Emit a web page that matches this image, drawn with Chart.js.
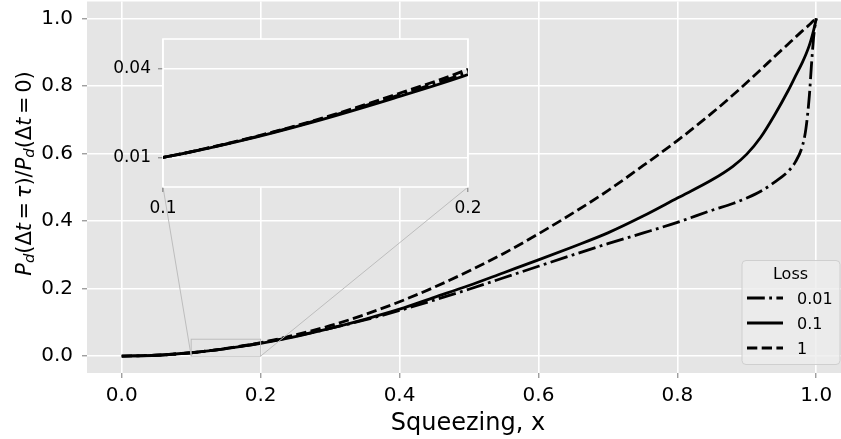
<!DOCTYPE html>
<html>
<head>
<meta charset="utf-8">
<script src="https://cdn.jsdelivr.net/npm/chart.js@4.4.0/dist/chart.umd.min.js"></script>
<style>
  html, body { margin: 0; padding: 0; background: #fff; overflow: hidden; }
  #wrap { position: relative; width: 841px; height: 439px; overflow: hidden; }
  #main { position: absolute; left: 0; top: 0; }
  #inset { position: absolute; left: 100px; top: 20px; }
</style>
</head>
<body>
<div id="wrap">
  <canvas id="main" width="851" height="439"></canvas>
  <canvas id="inset" width="400" height="210"></canvas>
</div>
<script>
// values
const squeezing = [0, 0.05, 0.1, 0.125, 0.15, 0.175, 0.2, 0.25, 0.3, 0.35, 0.4, 0.45, 0.5, 0.55, 0.6, 0.65, 0.7, 0.75, 0.8, 0.85, 0.88, 0.9, 0.92, 0.94, 0.96, 0.97, 0.98, 0.985, 0.99, 0.993, 0.996, 0.998, 1.0];
const loss001 = [0, 0.0025, 0.0100, 0.0156, 0.0224, 0.0303, 0.0388, 0.059, 0.082, 0.107, 0.135, 0.166, 0.198, 0.232, 0.266, 0.300, 0.333, 0.364, 0.396, 0.432, 0.452, 0.468, 0.488, 0.515, 0.548, 0.575, 0.622, 0.672, 0.770, 0.860, 0.940, 0.975, 1.0];
const loss01 = [0, 0.0025, 0.0100, 0.0155, 0.0222, 0.0298, 0.0380, 0.058, 0.082, 0.109, 0.139, 0.174, 0.209, 0.247, 0.285, 0.324, 0.365, 0.414, 0.468, 0.522, 0.562, 0.598, 0.648, 0.714, 0.788, 0.829, 0.870, 0.893, 0.920, 0.940, 0.963, 0.980, 1.0];
const loss1 = [0, 0.0025, 0.0100, 0.0157, 0.0226, 0.0308, 0.0398, 0.063, 0.090, 0.123, 0.161, 0.204, 0.252, 0.304, 0.362, 0.424, 0.490, 0.563, 0.638, 0.720, 0.773, 0.810, 0.848, 0.887, 0.925, 0.944, 0.963, 0.972, 0.981, 0.987, 0.993, 0.996, 1.0];
const lossLabels = ['0.01', '0.1', '1'];

const xTicks = [0, 0.2, 0.4, 0.6, 0.8, 1.0];
const yTicks = [0, 0.2, 0.4, 0.6, 0.8, 1.0];
const insetXRange = [0.1, 0.2];
const insetYRange = [0, 0.05];
const insetXTicks = [0.1, 0.2];
const insetYTicks = [0.01, 0.04];

const FONT = 'DejaVu Sans';
Chart.defaults.font.family = FONT;
Chart.defaults.color = '#000';

const dashes = [[17.8, 4.4, 2.8, 4.4], [], [10.3, 4.4]];
const seriesList = [loss001, loss01, loss1];

function makeDatasets(clip) {
  return seriesList.map((s, k) => ({
    label: lossLabels[k],
    data: squeezing.map((x, i) => ({ x: x, y: s[i] })),
    showLine: true,
    borderColor: '#000',
    borderWidth: 2.8,
    borderDash: dashes[k],
    pointRadius: 0,
    cubicInterpolationMode: 'monotone',
    clip: clip
  }));
}

function fixTicks(list) {
  return function (scale) { scale.ticks = list.map(v => ({ value: v })); };
}

function fixSize(prop, size) {
  return function (scale) {
    scale[prop] = size;
    scale.paddingTop = 0; scale.paddingBottom = 0;
    scale.paddingLeft = 0; scale.paddingRight = 0;
  };
}

// ---------- inset ----------
const insetLeft = 100, insetTop = 20;

const insetDecor = {
  id: 'insetDecor',
  beforeDraw(chart) {
    const { ctx, chartArea: a } = chart;
    ctx.save();
    ctx.fillStyle = '#E5E5E5';
    ctx.fillRect(a.left, a.top, a.right - a.left, a.bottom - a.top);
    ctx.restore();
  },
  beforeDatasetsDraw(chart) {
    const { ctx, chartArea: a } = chart;
    ctx.save();
    ctx.strokeStyle = '#fff';
    ctx.lineWidth = 1.6;
    ctx.strokeRect(a.left, a.top, a.right - a.left, a.bottom - a.top);
    ctx.restore();
  }
};

const insetChart = new Chart(document.getElementById('inset'), {
  type: 'scatter',
  data: { datasets: makeDatasets(0) },
  options: {
    responsive: false,
    animation: false,
    layout: { padding: { top: 19, right: 32, left: 0, bottom: 0 } },
    plugins: { legend: { display: false }, tooltip: { enabled: false } },
    scales: {
      x: {
        type: 'linear', min: insetXRange[0], max: insetXRange[1],
        afterBuildTicks: fixTicks(insetXTicks),
        afterFit: fixSize('height', 43),
        grid: { color: '#fff', lineWidth: 1.6, tickColor: '#777', tickLength: 5, tickWidth: 1 },
        border: { display: false },
        ticks: { font: { size: 17 }, padding: 6, maxRotation: 0, callback: v => v.toFixed(1) }
      },
      y: {
        type: 'linear', min: insetYRange[0], max: insetYRange[1],
        afterBuildTicks: fixTicks(insetYTicks),
        afterFit: fixSize('width', 63),
        grid: { color: '#fff', lineWidth: 1.6, tickColor: '#777', tickLength: 5, tickWidth: 1 },
        border: { display: false },
        ticks: { font: { size: 17 }, padding: 7, callback: v => v.toFixed(2) }
      }
    }
  },
  plugins: [insetDecor]
});

// ---------- main ----------
// [text, style]: i = italic, s = italic subscript, g = small math gap
const yTitleParts = [
  ['P', 'i'], ['d', 's'], ['(Δ', ''], ['t', 'i'], ['', 'g'], ['=', ''], ['', 'g'], ['τ', 'i'], [')/', ''],
  ['P', 'i'], ['d', 's'], ['(Δ', ''], ['t', 'i'], ['', 'g'], ['=', ''], ['', 'g'], ['0)', '']
];

function partFont(style, size) {
  if (style === 's') return 'italic ' + (size * 0.7) + 'px "' + FONT + '"';
  if (style === 'i') return 'italic ' + size + 'px "' + FONT + '"';
  return size + 'px "' + FONT + '"';
}

function partWidth(ctx, p, size) {
  if (p[1] === 'g') return 0.17 * size;
  ctx.font = partFont(p[1], size);
  return ctx.measureText(p[0]).width;
}

function drawYTitle(ctx) {
  const size = 21;
  let w = 0;
  yTitleParts.forEach(p => { w += partWidth(ctx, p, size); });
  ctx.save();
  ctx.translate(30.5, 173.5 + w / 2);
  ctx.rotate(-Math.PI / 2);
  ctx.fillStyle = '#000';
  ctx.textBaseline = 'alphabetic';
  ctx.textAlign = 'left';
  let x = 0;
  yTitleParts.forEach(p => {
    const pw = partWidth(ctx, p, size);
    if (p[1] !== 'g') ctx.fillText(p[0], x, p[1] === 's' ? 3.5 : 0);
    x += pw;
  });
  ctx.restore();
}

function drawLegend(chart) {
  const ctx = chart.ctx;
  ctx.save();
  ctx.beginPath();
  ctx.roundRect(742, 260.5, 98, 104, 4);
  ctx.fillStyle = 'rgba(236,236,236,0.8)';
  ctx.fill();
  ctx.strokeStyle = '#cfcfcf';
  ctx.lineWidth = 1;
  ctx.stroke();
  ctx.fillStyle = '#000';
  ctx.font = '16px "' + FONT + '"';
  ctx.textAlign = 'center';
  ctx.textBaseline = 'alphabetic';
  ctx.fillText('Loss', 790.5, 279.3);
  ctx.textAlign = 'left';
  ctx.textBaseline = 'middle';
  chart.data.datasets.forEach((ds, i) => {
    const y = 298 + 25 * i;
    ctx.beginPath();
    ctx.setLineDash(ds.borderDash);
    ctx.lineWidth = ds.borderWidth;
    ctx.strokeStyle = ds.borderColor;
    ctx.moveTo(747, y);
    ctx.lineTo(783, y);
    ctx.stroke();
    ctx.setLineDash([]);
    ctx.fillText(ds.label, 797, y + 1.5);
  });
  ctx.restore();
}

const mainDecor = {
  id: 'mainDecor',
  beforeDraw(chart) {
    const { ctx, chartArea: a } = chart;
    ctx.save();
    ctx.fillStyle = '#fff';
    ctx.fillRect(0, 0, chart.width, chart.height);
    ctx.fillStyle = '#E5E5E5';
    ctx.fillRect(a.left, a.top, a.right - a.left, a.bottom - a.top);
    ctx.restore();
  },
  afterDatasetsDraw(chart) {
    const { ctx } = chart;
    const xs = chart.scales.x, ys = chart.scales.y;
    const x0 = xs.getPixelForValue(insetXRange[0]), x1 = xs.getPixelForValue(insetXRange[1]);
    const y0 = ys.getPixelForValue(insetYRange[0]), y1 = ys.getPixelForValue(insetYRange[1]);
    const ia = insetChart.chartArea;
    ctx.save();
    ctx.strokeStyle = '#bdbdbd';
    ctx.lineWidth = 1;
    ctx.strokeRect(x0, y1, x1 - x0, y0 - y1);
    ctx.beginPath();
    ctx.moveTo(insetLeft + ia.left, insetTop + ia.bottom);
    ctx.lineTo(x0, y0);
    ctx.moveTo(insetLeft + ia.right, insetTop + ia.bottom);
    ctx.lineTo(x1, y0);
    ctx.stroke();
    ctx.restore();
  },
  afterDraw(chart) {
    const ctx = chart.ctx;
    ctx.save();
    ctx.fillStyle = '#000';
    ctx.font = '24px "' + FONT + '"';
    ctx.textAlign = 'center';
    ctx.textBaseline = 'alphabetic';
    ctx.fillText('Squeezing, x', 468, 430);
    ctx.restore();
    drawYTitle(ctx);
    drawLegend(chart);
  }
};

new Chart(document.getElementById('main'), {
  type: 'scatter',
  data: { datasets: makeDatasets(3) },
  options: {
    responsive: false,
    animation: false,
    layout: { padding: { top: 1.5, right: 0, left: 0, bottom: 0 } },
    plugins: { legend: { display: false }, tooltip: { enabled: false } },
    scales: {
      x: {
        type: 'linear', min: -0.05, max: 1.05,
        afterBuildTicks: fixTicks(xTicks),
        afterFit: fixSize('height', 66),
        grid: { color: '#fff', lineWidth: 1.6, tickColor: '#777', tickLength: 5, tickWidth: 1 },
        border: { display: false },
        ticks: { font: { size: 20 }, padding: 6, maxRotation: 0, callback: v => v.toFixed(1) }
      },
      y: {
        type: 'linear', min: -0.05, max: 1.05,
        afterBuildTicks: fixTicks(yTicks),
        afterFit: fixSize('width', 87),
        grid: { color: '#fff', lineWidth: 1.6, tickColor: '#777', tickLength: 5, tickWidth: 1 },
        border: { display: false },
        ticks: { font: { size: 20 }, padding: 9, callback: v => v.toFixed(1) }
      }
    }
  },
  plugins: [mainDecor]
});
</script>
</body>
</html>
